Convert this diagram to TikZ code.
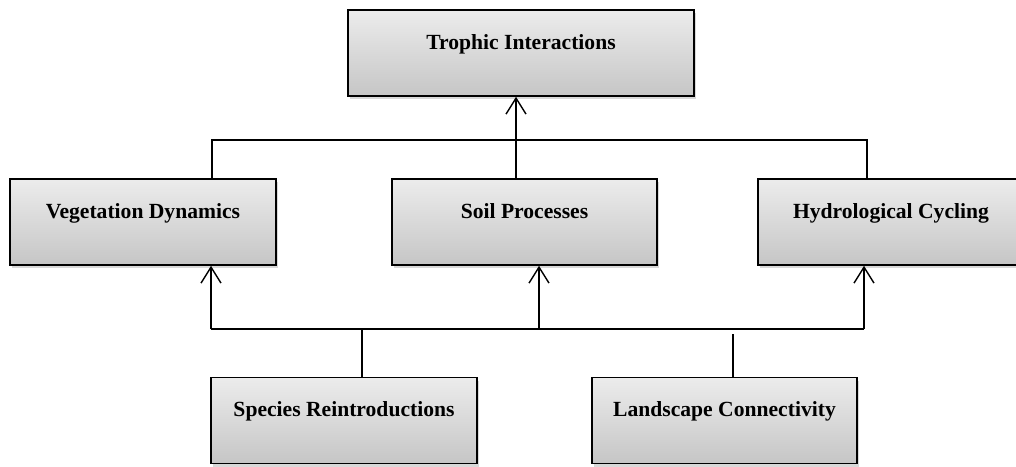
\documentclass[tikz,border=0pt]{standalone}
\usepackage{fontspec}
\setmainfont{Liberation Serif}
\usetikzlibrary{arrows.meta,shadows}
\tikzset{
  box/.style={draw=black, line width=1.6pt, top color=gray!15, bottom color=gray!45,
    drop shadow={opacity=0.3, shadow xshift=2pt, shadow yshift=-3pt},
    inner xsep=0pt, inner ysep=0pt, text height=39pt, text depth=47pt,
    font=\fontsize{21.6}{25}\selectfont\bfseries, align=center},
  link/.style={line width=1.4pt, draw=black},
  arr/.style={link, -{Straight Barb[length=16pt, width=20pt, line width=1.4pt]}}
}
\begin{document}
\begin{tikzpicture}[x=1pt, y=-1pt]
\useasboundingbox (0,0) rectangle (1016,466);
\clip (0,0) rectangle (1016,466);
\fill[white] (0,0) rectangle (1016,466);
\node[box, minimum width=346pt] (top) at (521,53) {Trophic Interactions};
\node[box, minimum width=266pt] (veg) at (143,222) {Vegetation Dynamics};
\node[box, minimum width=265pt] (soil) at (524.5,222) {Soil Processes};
\node[box, minimum width=266pt] (hyd) at (891,222) {Hydrological Cycling};
\node[box, minimum width=266pt] (spec) at (344,420.5) {Species Reintroductions};
\node[box, minimum width=265pt] (land) at (724.5,420.5) {Landscape Connectivity};
% upper bus
\coordinate (ul) at (212,140);
\coordinate (ur) at (867,140);
\coordinate (uc) at (516,140);
\draw[link] (veg.north -| ul) -- (ul) -- (ur) -- (hyd.north -| ur);
\draw[arr] (soil.north -| uc) -- (top.south -| uc);
% lower bus
\coordinate (ll) at (211,329);
\coordinate (lr) at (864,329);
\coordinate (lc) at (539,329);
\coordinate (ls) at (362,329);
\coordinate (lt) at (733,334);
\draw[link] (ll) -- (lr);
\draw[arr] (ll) -- (veg.south -| ll);
\draw[arr] (lc) -- (soil.south -| lc);
\draw[arr] (lr) -- (hyd.south -| lr);
\draw[link] (spec.north -| ls) -- (ls);
\draw[link] (land.north -| lt) -- (lt);
\end{tikzpicture}
\end{document}
